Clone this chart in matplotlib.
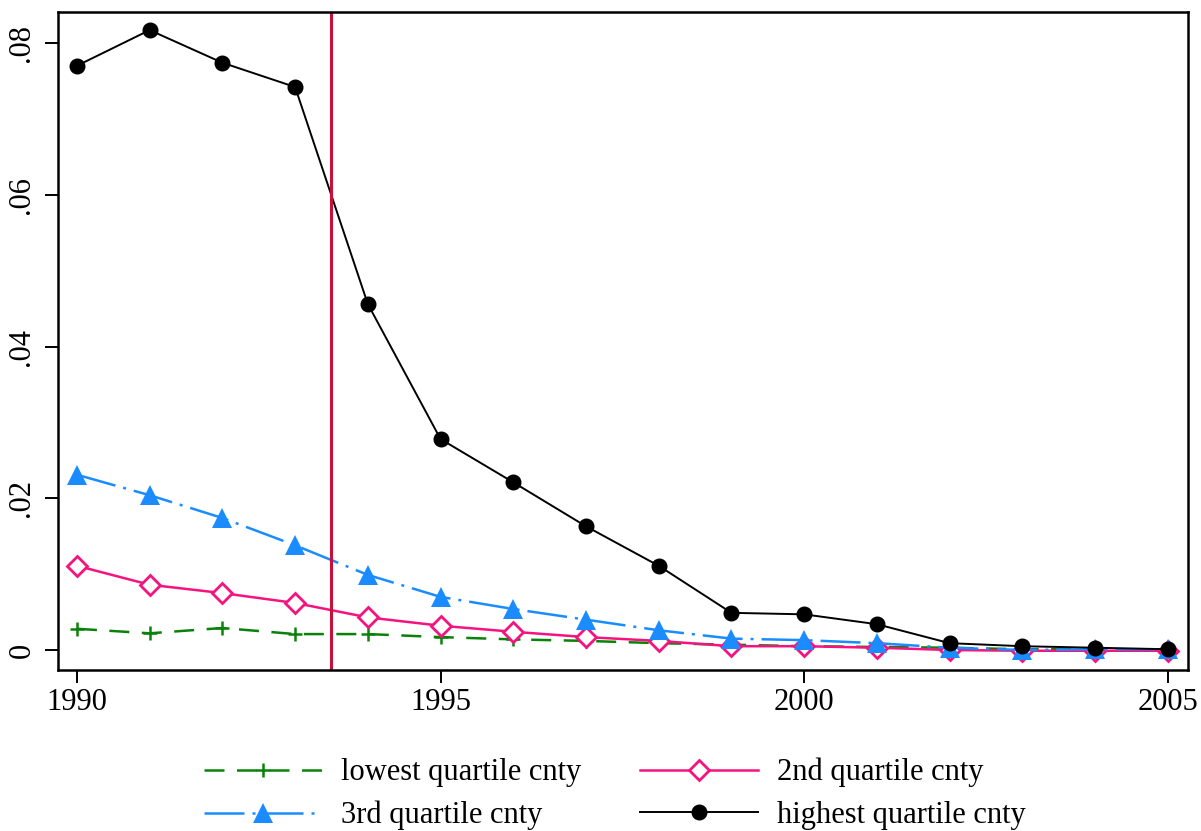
import matplotlib
matplotlib.use("Agg")
import matplotlib.pyplot as plt

years = list(range(1990, 2006))
lowest = [0.0028, 0.0022, 0.0029, 0.0021, 0.0021, 0.0017, 0.0014, 0.0012, 0.0009, 0.0007, 0.0005, 0.0004, 0.0003, 0.0001, 0.0001, 0.0001]
second = [0.0111, 0.0086, 0.0075, 0.0062, 0.0043, 0.0032, 0.0024, 0.0017, 0.0012, 0.0005, 0.0005, 0.0003, 0.0000, -0.0001, -0.0001, -0.0001]
third = [0.0231, 0.0204, 0.0174, 0.0138, 0.0099, 0.0070, 0.0054, 0.0040, 0.0026, 0.0015, 0.0013, 0.0009, 0.0003, 0.0000, 0.0001, 0.0001]
highest = [0.0770, 0.0817, 0.0774, 0.0742, 0.0456, 0.0278, 0.0221, 0.0163, 0.0111, 0.0049, 0.0047, 0.0034, 0.0009, 0.0005, 0.0003, 0.0001]
event_year = 1993.5
xticks = [1990, 1995, 2000, 2005]
yticks = [0, 0.02, 0.04, 0.06, 0.08]
ytick_labels = ["0", ".02", ".04", ".06", ".08"]
labels = ["lowest quartile cnty", "2nd quartile cnty", "3rd quartile cnty", "highest quartile cnty"]

plt.rcParams['font.family'] = ['Liberation Serif', 'DejaVu Serif']

fig = plt.figure(figsize=(12.01, 8.31), dpi=100)
ax = fig.add_axes([0.0483, 0.1937, 0.9407, 0.7919])

green = '#0a820a'
pink = '#f5147f'
blue = '#1a8cff'

l1, = ax.plot(years, lowest, color=green, lw=1.8, linestyle=(0, (8, 5)),
              marker='+', markersize=10, markeredgewidth=1.8, label=labels[0])
l2, = ax.plot(years, second, color=pink, lw=1.8, linestyle='-',
              marker='D', markersize=10, markerfacecolor='white', markeredgecolor=pink,
              markeredgewidth=2.0, label=labels[1])
l3, = ax.plot(years, third, color=blue, lw=1.8, linestyle=(0, (16, 3.2, 1.2, 3.2)),
              marker='^', markersize=15, markeredgewidth=0, label=labels[2])
l4, = ax.plot(years, highest, color='black', lw=1.4, linestyle='-',
              marker='o', markersize=10.5, label=labels[3])

ax.axvline(event_year, color='#c8103c', lw=2.2)

ax.set_xlim(1989.74, 2005.275)
ax.set_ylim(-0.00264, 0.08409)
ax.set_xticks(xticks)
ax.set_xticklabels([str(x) for x in xticks])
ax.set_yticks(yticks)
ax.set_yticklabels(ytick_labels, rotation=90, va='center')
ax.tick_params(axis='both', labelsize=22, length=9.5, width=1.4, direction='out')
ax.tick_params(axis='y', pad=6)
for s in ax.spines.values():
    s.set_linewidth(1.8)

fig.legend([l1, l3, l2, l4], [labels[0], labels[2], labels[1], labels[3]],
           ncol=2, loc='lower center', bbox_to_anchor=(0.512, -0.0324),
           frameon=False, fontsize=22, handlelength=3.86, columnspacing=1.93,
           handletextpad=0.62, labelspacing=0.44)

fig.savefig("out.png", dpi=100)
